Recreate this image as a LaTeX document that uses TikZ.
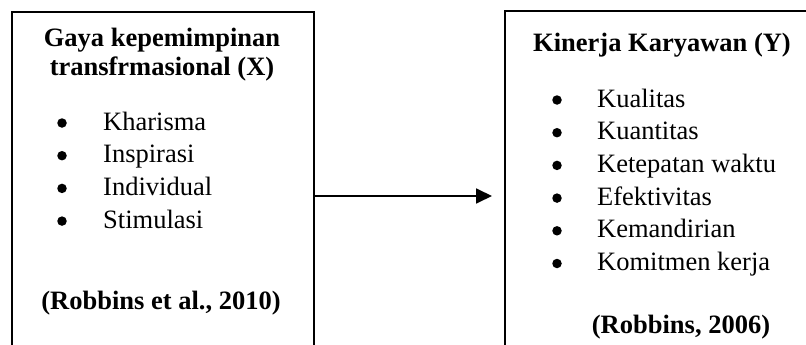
\documentclass[tikz,border=0pt]{standalone}
\usepackage{fontspec}
\setmainfont{Liberation Serif}
\usetikzlibrary{arrows.meta}
\begin{document}
\begin{tikzpicture}[x=1pt,y=1pt,
  frame/.style={draw, line width=1.8pt, anchor=north west, inner sep=0pt},
  txt/.style={inner sep=0pt, font=\fontsize{26.5}{30}\selectfont},
  head/.style={txt, anchor=base, font=\fontsize{26.5}{30}\selectfont\bfseries},
  item/.style={txt, anchor=base west},
  dot/.style={circle, fill, inner sep=0pt, minimum size=9.5pt},
  arr/.style={line width=1.8pt, -{Triangle[length=16pt,width=15pt]}}
  ]
  \useasboundingbox (0,0) rectangle (806,-345);
  \clip (0,0) rectangle (806,-345);

  % the two variable boxes (their lower parts run past the page)
  \node[frame, minimum width=302pt, minimum height=420pt] (boxL) at (11,-11) {};
  \node[frame, minimum width=316pt, minimum height=420pt] (boxR) at (504,-10) {};

  % independent variable
  \node[head] (hL1) at (162,-47) {Gaya kepemimpinan};
  \node[head] (hL2) at (162,-76) {transfrmasional (X)};
  \foreach \t [count=\i] in {Kharisma, Inspirasi, Individual, Stimulasi} {
    \node[dot] (dL\i) at (62,{-123-32.7*(\i-1)}) {};
    \node[item] (iL\i) at (103,{-130-32.7*(\i-1)}) {\t};
  }
  \node[head] (sL) at (161,-309) {(Robbins et al., 2010)};

  % dependent variable
  \node[head] (hR) at (662,-52) {Kinerja Karyawan (Y)};
  \foreach \t [count=\i] in {Kualitas, Kuantitas, Ketepatan waktu, Efektivitas, Kemandirian, Komitmen kerja} {
    \node[dot] (dR\i) at (557,{-100-32.7*(\i-1)}) {};
    \node[item] (iR\i) at (597,{-107-32.7*(\i-1)}) {\t};
  }
  \node[head] (sR) at (681,-333) {(Robbins, 2006)};

  % influence arrow
  \coordinate (ay) at (0,-196);
  \draw[arr] (boxL.east |- ay) -- ([xshift=-12pt]boxR.west |- ay);
\end{tikzpicture}
\end{document}
